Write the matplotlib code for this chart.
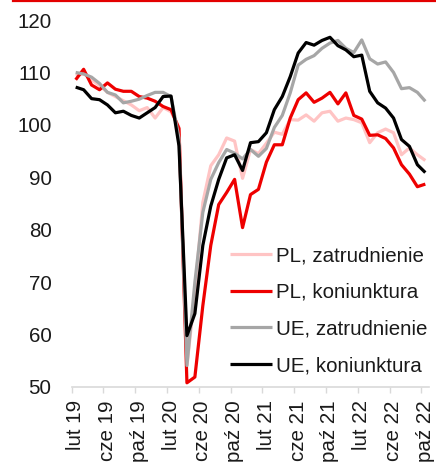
import matplotlib
matplotlib.use("Agg")
import matplotlib.pyplot as plt
from matplotlib.lines import Line2D

plt.rcParams['font.family'] = ['Liberation Sans', 'DejaVu Sans']

# Monthly data, Feb 2019 - Oct 2022
months = ["lut 19", "mar 19", "kwi 19", "maj 19", "cze 19", "lip 19", "sie 19", "wrz 19",
          "paź 19", "lis 19", "gru 19", "sty 20", "lut 20", "mar 20", "kwi 20", "maj 20",
          "cze 20", "lip 20", "sie 20", "wrz 20", "paź 20", "lis 20", "gru 20", "sty 21",
          "lut 21", "mar 21", "kwi 21", "maj 21", "cze 21", "lip 21", "sie 21", "wrz 21",
          "paź 21", "lis 21", "gru 21", "sty 22", "lut 22", "mar 22", "kwi 22", "maj 22",
          "cze 22", "lip 22", "sie 22", "wrz 22", "paź 22"]

pl_zatrudnienie = [109.4, 109.8, 108.6, 107.5, 106.2, 105.4, 104.6, 103.8, 102.7, 103.3,
                   101.3, 103.3, 102.5, 99.5, 54.0, 68.0, 85.2, 92.2, 94.3, 97.5,
                   96.9, 89.8, 95.3, 94.5, 96.5, 98.6, 98.2, 101.0, 100.9, 101.9,
                   100.7, 102.3, 102.6, 100.7, 101.3, 101.0, 100.4, 96.6, 98.5, 99.2,
                   98.5, 94.3, 95.6, 94.3, 93.2]

pl_koniunktura = [108.6, 110.6, 107.6, 106.7, 108.0, 106.8, 106.4, 106.4, 105.4, 105.1,
                  104.5, 103.5, 102.9, 99.3, 50.8, 51.9, 65.5, 77.0, 84.8, 87.1,
                  89.6, 80.4, 86.7, 87.7, 92.9, 96.2, 96.2, 101.3, 104.8, 106.1,
                  104.3, 105.1, 106.2, 104.0, 106.1, 101.8, 101.1, 98.0, 98.1, 97.4,
                  95.6, 92.4, 90.6, 88.2, 88.7]

ue_zatrudnienie = [110.0, 109.7, 109.1, 107.9, 106.2, 105.7, 104.2, 104.5, 104.9, 105.6,
                   106.2, 106.2, 105.4, 97.5, 54.1, 70.0, 83.3, 89.6, 92.8, 95.3,
                   94.6, 93.5, 95.3, 94.0, 95.5, 99.5, 101.8, 106.1, 111.4, 112.5,
                   113.2, 114.6, 115.6, 116.1, 114.6, 113.8, 116.2, 112.6, 111.6, 112.0,
                   110.0, 106.9, 107.1, 106.2, 104.5]

ue_koniunktura = [107.2, 106.7, 105.0, 104.8, 103.8, 102.3, 102.6, 101.8, 101.3, 102.3,
                  103.3, 105.4, 105.5, 96.0, 59.8, 64.0, 77.0, 84.5, 89.6, 93.7,
                  94.3, 91.3, 96.6, 96.8, 98.5, 102.9, 105.4, 109.2, 113.7, 115.7,
                  115.2, 116.1, 116.7, 115.1, 114.3, 113.0, 113.3, 106.4, 104.2, 103.2,
                  101.3, 97.2, 95.9, 92.4, 90.9]

series_names = ["PL, zatrudnienie", "PL, koniunktura", "UE, zatrudnienie", "UE, koniunktura"]
colors = ["#FFC4C4", "#EE0000", "#A6A6A6", "#000000"]

fig = plt.figure(figsize=(4.36, 4.63), dpi=100)
ax = fig.add_axes([71.7 / 436, 1 - 387 / 463, (429.3 - 71.7) / 436, (387 - 20) / 463])

x = list(range(len(months)))
for vals, name, c in zip([pl_zatrudnienie, pl_koniunktura, ue_zatrudnienie, ue_koniunktura],
                         series_names, colors):
    ax.plot(x, vals, color=c, lw=2.3, label=name, solid_joinstyle='round',
            solid_capstyle='butt', clip_on=False)

ax.set_xlim(-0.5, len(months) - 0.5)
ax.set_ylim(50, 120)
ax.set_yticks(range(50, 121, 10))

# major ticks at category boundaries, labels at category centres
ax.set_xticks([i - 0.5 for i in range(0, len(months), 4)])
ax.set_xticklabels([])
ax.set_xticks(list(range(0, len(months), 4)), minor=True)
ax.set_xticklabels([months[i] for i in range(0, len(months), 4)], minor=True,
                   rotation=90, fontsize=14.8, color="#1a1a1a")
ax.tick_params(axis='x', which='major', length=4.2, width=1, color="#D9D9D9", direction='out')
ax.tick_params(axis='x', which='minor', length=0, pad=9.5)
ax.tick_params(axis='y', length=0, pad=14.5, labelsize=14.8, labelcolor="#1a1a1a")

for s in ['top', 'right', 'left']:
    ax.spines[s].set_visible(False)
ax.spines['bottom'].set_color("#D9D9D9")
ax.spines['bottom'].set_linewidth(1.2)

ax.legend(loc='center left', bbox_to_anchor=(230 / 436, 1 - 310.6 / 463),
          bbox_transform=fig.transFigure, frameon=False, borderpad=0, borderaxespad=0,
          handlelength=2.04, handletextpad=0.2, labelspacing=0.86,
          fontsize=14.8, labelcolor="#1a1a1a")

# red decorative line at the top
fig.add_artist(Line2D([13 / 436, 1.0], [1 - 1 / 463, 1 - 1 / 463],
                      transform=fig.transFigure, color="#E30000", lw=1.6))

fig.savefig("out.png", dpi=100)
